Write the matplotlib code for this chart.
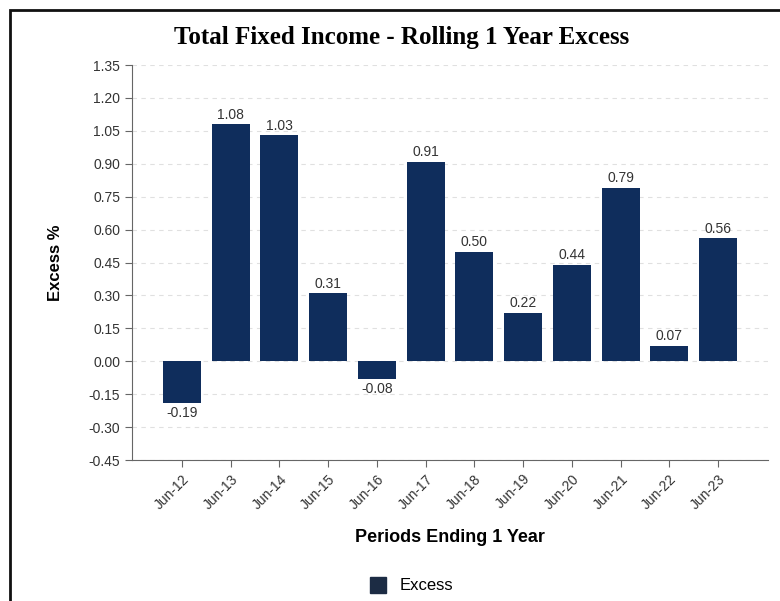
import numpy as np
import matplotlib.pyplot as plt
import matplotlib.patches as patches
from matplotlib.lines import Line2D

plt.rcParams['font.family'] = ['Liberation Sans', 'DejaVu Sans']

periods = ["Jun-12", "Jun-13", "Jun-14", "Jun-15", "Jun-16", "Jun-17",
           "Jun-18", "Jun-19", "Jun-20", "Jun-21", "Jun-22", "Jun-23"]
excess = [-0.19, 1.08, 1.03, 0.31, -0.08, 0.91, 0.50, 0.22, 0.44, 0.79, 0.07, 0.56]
yticks = [-0.45, -0.30, -0.15, 0.00, 0.15, 0.30, 0.45, 0.60, 0.75, 0.90, 1.05, 1.20, 1.35]

bar_color = "#0f2d5c"
txt_color = "#333333"

fig = plt.figure(figsize=(7.8, 6.01), dpi=100)

# outer frame (top and left edges visible)
fig.patches.append(patches.Rectangle((10/780, -0.05), 1.2, 1 - 10/601 + 0.05,
                                     transform=fig.transFigure, fill=False,
                                     edgecolor="#111111", linewidth=2.0))

ax = fig.add_axes([0.169, 0.2346, 0.816, 0.6572])
x = np.arange(len(periods))
ax.bar(x, excess, width=0.78, color=bar_color, zorder=3)

ax.set_xlim(-1.03, 12.03)
ax.set_ylim(-0.45, 1.35)
ax.set_yticks(yticks)
ax.set_yticklabels(["%.2f" % v for v in yticks], fontsize=10, color=txt_color)
ax.set_xticks(x)
ax.set_xticklabels(periods, rotation=45, ha="right", rotation_mode="anchor",
                   fontsize=10, color=txt_color)

ax.yaxis.grid(True, linestyle=(0, (4, 4)), color="#e0e0e0", linewidth=0.8, zorder=0)
for s in ["top", "right"]:
    ax.spines[s].set_visible(False)
for s in ["left", "bottom"]:
    ax.spines[s].set_color("#666666")
ax.tick_params(axis="both", direction="out", length=5, color="#666666", width=0.8)

for xi, v in zip(x, excess):
    if v >= 0:
        ax.text(xi, v + 0.012, "%.2f" % v, ha="center", va="bottom", fontsize=10, color=txt_color)
    else:
        ax.text(xi, v - 0.015, "%.2f" % v, ha="center", va="top", fontsize=10, color=txt_color)

fig.text(0.515, 0.938, "Total Fixed Income - Rolling 1 Year Excess",
         ha="center", va="center", fontsize=18, fontweight="bold",
         family="Liberation Serif")
ax.set_ylabel("Excess %", fontsize=12, fontweight="bold", labelpad=18)
ax.set_xlabel("Periods Ending 1 Year", fontsize=13, fontweight="bold", labelpad=12)

handle = Line2D([], [], marker="s", linestyle="none", markersize=11,
                markerfacecolor="#1c2c44", markeredgecolor="#1c2c44")
fig.legend([handle], ["Excess"], loc="center", bbox_to_anchor=(0.522, 0.025),
           frameon=False, fontsize=12, handletextpad=0.3)

plt.savefig("out.png", dpi=100)
